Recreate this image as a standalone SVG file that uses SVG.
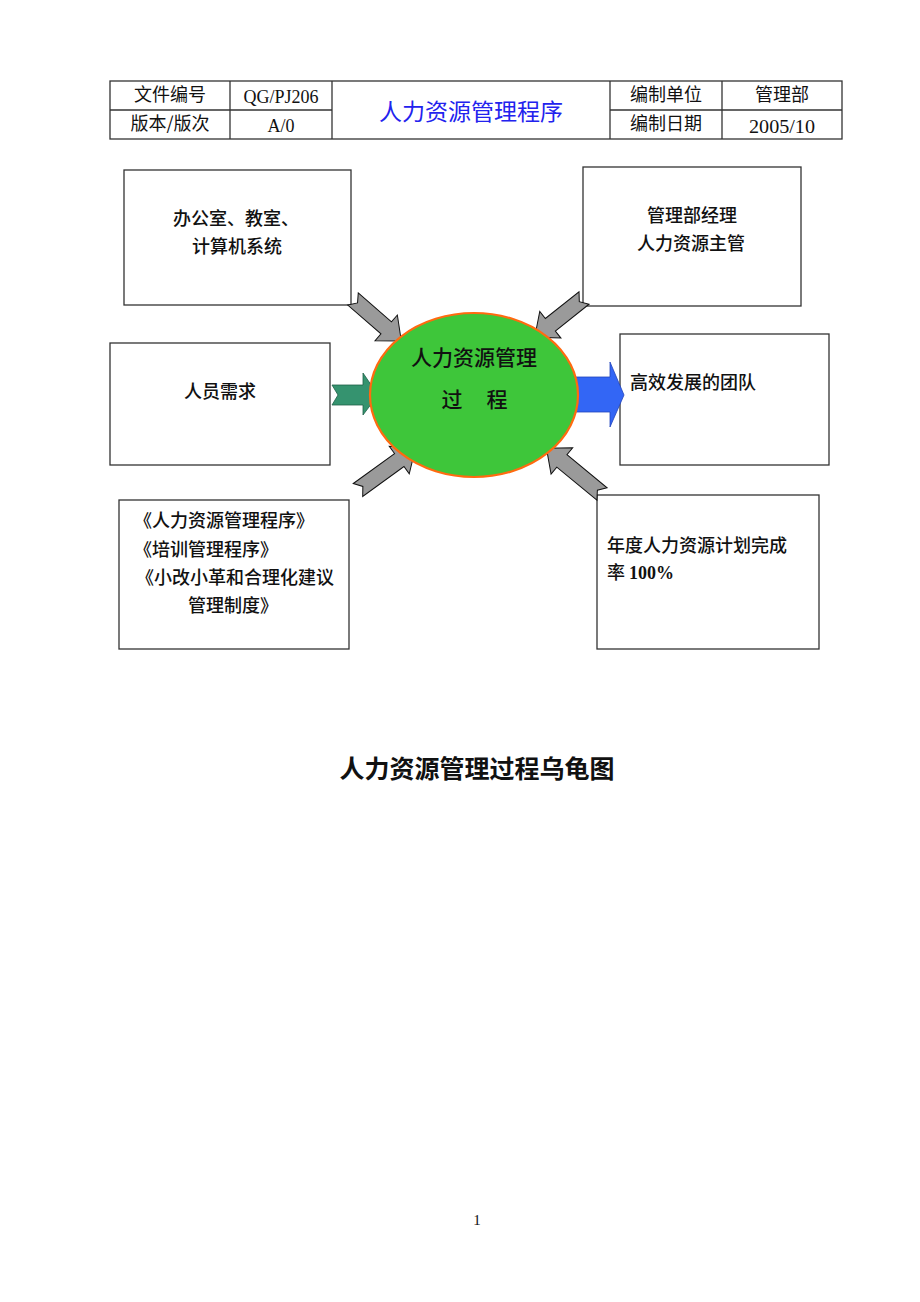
<svg xmlns="http://www.w3.org/2000/svg" width="920" height="1302" viewBox="0 0 920 1302">
<style>
.cell{fill:none;stroke:#333;stroke-width:1.3}
.t{font-family:"Noto Sans CJK SC",sans-serif;font-size:18px;fill:#111}
.tm{font-family:"Liberation Serif","Noto Sans CJK SC",serif;font-size:18px;fill:#111}
.box{fill:#fff;stroke:#333;stroke-width:1.3}
.bt{font-family:"Noto Sans CJK SC",sans-serif;font-size:18px;font-weight:500;fill:#111}
.garr{fill:#9a9a9a;stroke:#111;stroke-width:1}
.et{font-family:"Noto Sans CJK SC",sans-serif;font-size:21px;font-weight:500;fill:#111}
</style>
<rect width="920" height="1302" fill="#fff"/>
<g id="header">
<rect class="cell" x="110" y="81" width="732" height="58"/>
<line class="cell" x1="110" y1="110" x2="332" y2="110"/>
<line class="cell" x1="610" y1="110" x2="842" y2="110"/>
<line class="cell" x1="230" y1="81" x2="230" y2="139"/>
<line class="cell" x1="332" y1="81" x2="332" y2="139"/>
<line class="cell" x1="610" y1="81" x2="610" y2="139"/>
<line class="cell" x1="722" y1="81" x2="722" y2="139"/>
<text class="t" x="170" y="101" text-anchor="middle">文件编号</text>
<text class="t" x="170" y="130" text-anchor="middle">版本/版次</text>
<text class="tm" x="281" y="103" text-anchor="middle" textLength="75" lengthAdjust="spacingAndGlyphs">QG/PJ206</text>
<text class="tm" x="281" y="132" text-anchor="middle">A/0</text>
<text x="471" y="120" text-anchor="middle" font-family="Noto Sans CJK SC,sans-serif" font-size="23" fill="#2222ee">人力资源管理程序</text>
<text class="t" x="666" y="101" text-anchor="middle">编制单位</text>
<text class="t" x="666" y="130" text-anchor="middle">编制日期</text>
<text class="t" x="782" y="101" text-anchor="middle">管理部</text>
<text class="tm" x="782" y="133" text-anchor="middle" textLength="66" lengthAdjust="spacingAndGlyphs">2005/10</text>
</g>
<g id="node-resources">
<rect class="box" x="124" y="170" width="227" height="135"/>
<text class="bt" x="173" y="225" font-size="17">办公室、教室、</text>
<text class="bt" x="192" y="253">计算机系统</text>
</g>
<g id="node-who">
<rect class="box" x="583" y="167" width="218" height="139"/>
<text class="bt" x="692" y="222" text-anchor="middle">管理部经理</text>
<text class="bt" x="691" y="250" text-anchor="middle">人力资源主管</text>
</g>
<g id="node-input">
<rect class="box" x="110" y="343" width="220" height="122"/>
<text class="bt" x="220" y="398" text-anchor="middle">人员需求</text>
</g>
<g id="node-output">
<rect class="box" x="620" y="334" width="209" height="131"/>
<text class="bt" x="630" y="389">高效发展的团队</text>
</g>
<g id="node-how">
<rect class="box" x="119" y="500" width="230" height="149"/>
<text class="bt" x="134" y="527" font-size="17">《人力资源管理程序》</text>
<text class="bt" x="134" y="556" font-size="17">《培训管理程序》</text>
<text class="bt" x="136" y="584" font-size="17.5">《小改小革和合理化建议</text>
<text class="bt" x="188" y="612" font-size="17.5">管理制度》</text>
</g>
<g id="node-measure">
<rect class="box" x="597" y="495" width="222" height="154"/>
<text class="bt" x="607" y="552">年度人力资源计划完成</text>
<text class="bt" x="607" y="579">率 <tspan font-family="Liberation Serif,serif" font-weight="bold">100%</tspan></text>
</g>
<g id="connectors">
<path class="garr" transform="translate(353,299) rotate(41)" d="M0,-8 L44,-8 L44,-17 L64,0 L44,17 L44,8 L0,8 L6,0 Z"/>
<path class="garr" transform="translate(584,298) rotate(141.5)" d="M0,-8 L43,-8 L43,-17 L63,0 L43,17 L43,8 L0,8 L6,0 Z"/>
<path class="garr" transform="translate(358,490) rotate(-36)" d="M0,-8 L51,-8 L51,-17 L71,0 L51,17 L51,8 L0,8 L6,0 Z"/>
<path class="garr" transform="translate(602,494) rotate(219.5)" d="M0,-8 L52,-8 L52,-17 L72,0 L52,17 L52,8 L0,8 L6,0 Z"/>
<path d="M332,385 L363,385 L363,373 L378,395 L363,415 L363,405 L332,405 L338,395 Z" fill="#35936f" stroke="#1f5f47" stroke-width="0.8"/>
<path d="M570,377 L610,377 L610,362 L624,395 L610,427 L610,412 L570,412 Z" fill="#3366f5" stroke="#2244bb" stroke-width="0.8"/>
</g>
<g id="node-process">
<ellipse cx="474" cy="395" rx="104" ry="82" fill="#3ec63a" stroke="#ff6a10" stroke-width="2.2"/>
<text class="et" x="474" y="365" text-anchor="middle">人力资源管理</text>
<text class="et" x="452" y="407" text-anchor="middle">过</text>
<text class="et" x="497" y="407" text-anchor="middle">程</text>
</g>
<text x="477" y="778" text-anchor="middle" font-family="Noto Sans CJK SC,sans-serif" font-size="25" font-weight="bold" fill="#111">人力资源管理过程乌龟图</text>
<text x="477" y="1225" text-anchor="middle" font-family="Liberation Serif,serif" font-size="15" fill="#111">1</text>
</svg>
